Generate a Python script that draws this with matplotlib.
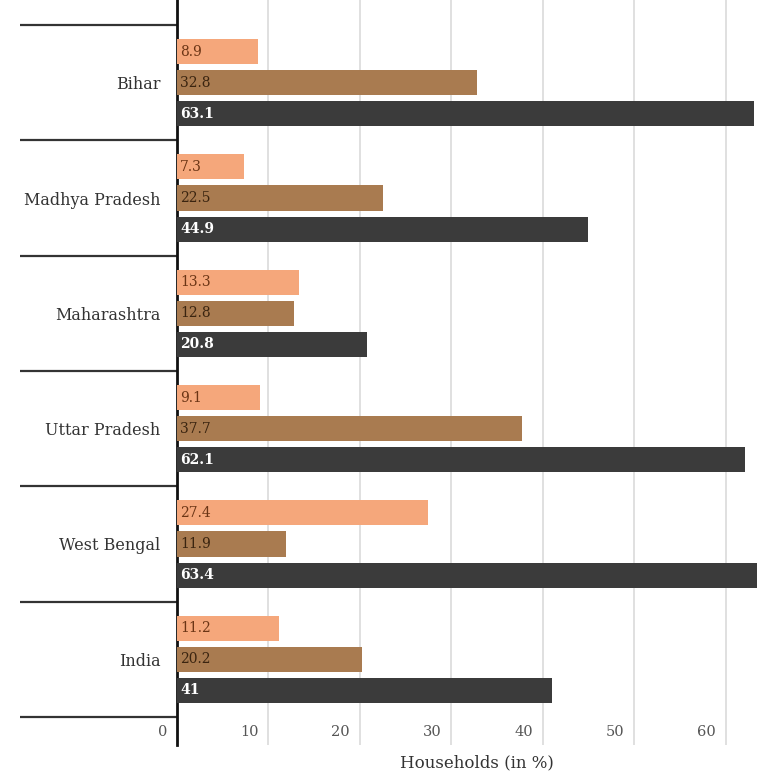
import matplotlib
matplotlib.use('Agg')
import matplotlib.pyplot as plt
import matplotlib.transforms as mtransforms
import numpy as np

plt.rcParams['font.family'] = ['DejaVu Serif']

states = ['Bihar', 'Madhya Pradesh', 'Maharashtra', 'Uttar Pradesh', 'West Bengal', 'India']
series_a = [8.9, 7.3, 13.3, 9.1, 27.4, 11.2]
series_b = [32.8, 22.5, 12.8, 37.7, 11.9, 20.2]
series_c = [63.1, 44.9, 20.8, 62.1, 63.4, 41]
x_ticks = [0, 10, 20, 30, 40, 50, 60]

fig = plt.figure(figsize=(7.77, 7.74), dpi=100)
fig.patch.set_facecolor('white')
ax = fig.add_axes([177 / 777, 1 - 745 / 774, 1 - 177 / 777, 745 / 774])

y = np.arange(len(states))
step = 0.269
h = 0.217

ax.barh(y - step, series_a, h, color='#F5A77B', zorder=3)
ax.barh(y, series_b, h, color='#A97B50', zorder=3)
ax.barh(y + step, series_c, h, color='#3B3B3B', zorder=3)

for yi, a, b, c in zip(y, series_a, series_b, series_c):
    ax.text(0.35, yi - step, f'{a:g}', va='center', ha='left', fontsize=10,
            color='#6B3515', zorder=4)
    ax.text(0.35, yi, f'{b:g}', va='center', ha='left', fontsize=10,
            color='#3A2410', zorder=4)
    ax.text(0.35, yi + step, f'{c:g}', va='center', ha='left', fontsize=10,
            color='white', fontweight='bold', zorder=4)

ax.set_xlim(0, 65.6)
ax.set_ylim(5.5 + 28 / 115.3, -0.5 - 25 / 115.3)

# category labels at the centres, separator ticks between categories
ax.set_yticks(y)
ax.set_yticklabels(states, fontsize=11.5, color='#333333')
ax.tick_params(axis='y', which='major', length=0, pad=12)
ax.set_yticks(np.arange(-0.5, len(states)), minor=True)
ax.tick_params(axis='y', which='minor', length=113, width=1.6, color='#333333')

# vertical grid
for t in x_ticks[1:]:
    ax.axvline(t, color='#DDDDDD', linewidth=1.3, zorder=0)

ax.set_xticks([])
trans = mtransforms.blended_transform_factory(ax.transData, ax.transAxes)
for t in x_ticks:
    ax.text(t - 1.1, 0.017, str(t), transform=trans, ha='right', va='center',
            fontsize=10.5, color='#555555')

ax.text(0.5, -0.024, 'Households (in %)', transform=ax.transAxes, ha='center',
        va='center', fontsize=12, color='#333333', clip_on=False)

for side in ['top', 'right', 'bottom']:
    ax.spines[side].set_visible(False)
ax.spines['left'].set_linewidth(2)
ax.spines['left'].set_color('#111111')

plt.savefig('out.png', dpi=100, facecolor='white')
